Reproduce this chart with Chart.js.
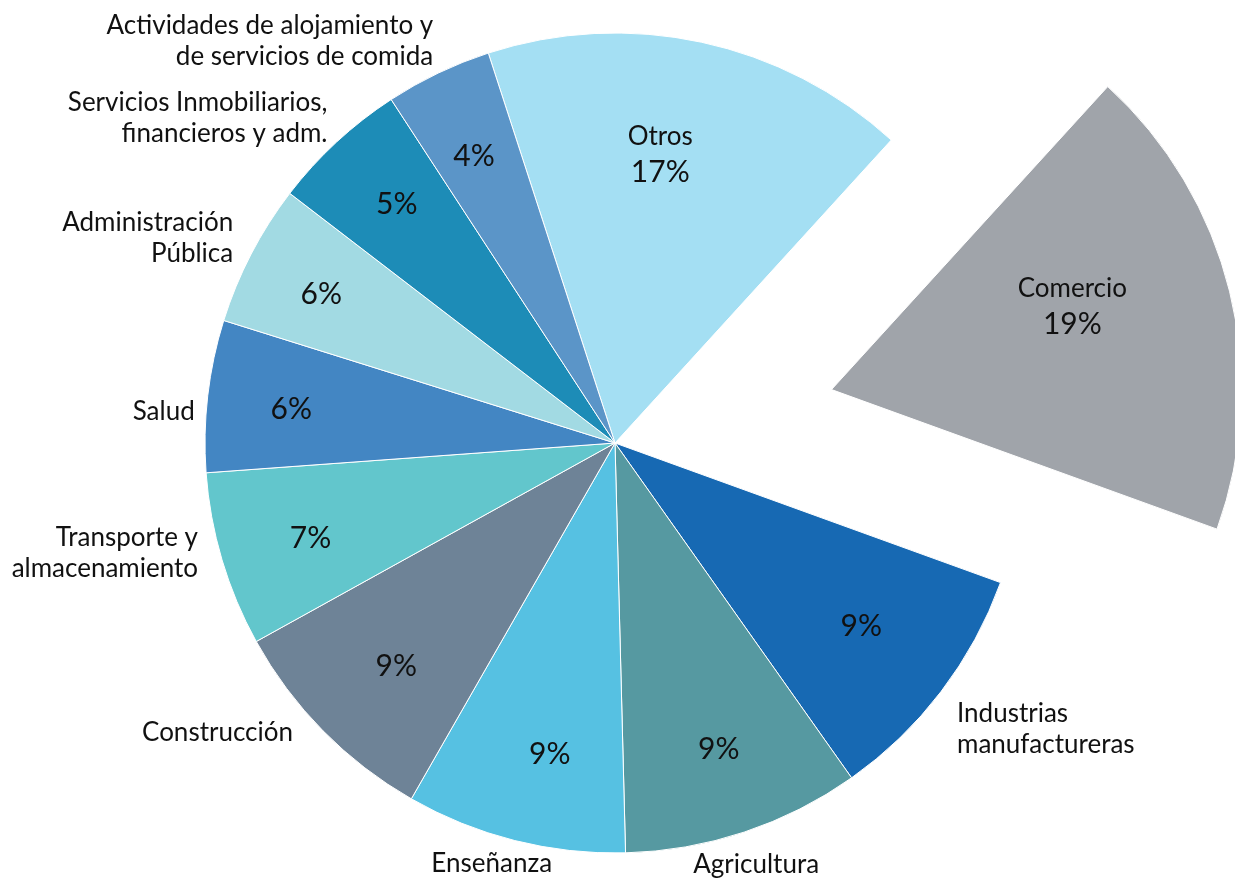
<!DOCTYPE html>
<html>
<head>
<meta charset="utf-8">
<script src="https://cdn.jsdelivr.net/npm/chart.js@4.4.1/dist/chart.umd.min.js"></script>
<style>
  html, body { margin: 0; padding: 0; background: #fff; }
  #wrap { width: 1235px; height: 880px; }
</style>
</head>
<body>
<div id="wrap"><canvas id="chart"></canvas></div>
<script>
// sectors, clockwise starting at "Otros"
var sectors = [
  ['Otros'],
  ['Comercio'],
  ['Industrias', 'manufactureras'],
  ['Agricultura'],
  ['Enseñanza'],
  ['Construcción'],
  ['Transporte y', 'almacenamiento'],
  ['Salud'],
  ['Administración', 'Pública'],
  ['Servicios Inmobiliarios,', 'financieros y adm.'],
  ['Actividades de alojamiento y', 'de servicios de comida']
];
var shares = [16.8, 18.8, 9.7, 9.4, 8.7, 8.7, 6.9, 6.0, 5.6, 5.4, 4.2];
var shareLabels = ['17%', '19%', '9%', '9%', '9%', '9%', '7%', '6%', '6%', '5%', '4%'];
var colors = ['#a4dff3', '#a0a4aa', '#1769b3', '#5699a1', '#56c1e2', '#6e8397',
              '#62c6cc', '#4386c3', '#a2dae3', '#1d8cb7', '#5b95c8'];
var explodeBy = [0, 223, 0, 0, 0, 0, 0, 0, 0, 0, 0];

// where each label goes: inside (name + pct) or name outside the rim
var labelLayout = [
  { inside: true, r: 0.72, dx: -17, dy: 0 },
  { inside: true, r: 0.6, dx: 2, dy: -24 },
  { align: 'left', dx: 16, dy: 37, pdx: -8, pdy: -11 },
  { align: 'center', dx: 12, dy: 32, pdx: 3, pdy: 3 },
  { align: 'center', dx: -23, dy: 23, pdx: 13, pdy: 1 },
  { align: 'right', dx: -30, dy: 2, pdx: 9, pdy: -1 },
  { align: 'right', dx: -24, dy: -7, pdx: 2, pdy: 4 },
  { align: 'right', dx: -13, dy: 16, pdx: -6, pdy: 3 },
  { align: 'right', dx: -18, dy: -16, pdx: -10, pdy: -1 },
  { align: 'right', dx: -9, dy: -24, pdx: -1, pdy: -4 },
  { align: 'right', dx: -5, dy: -32, pdx: -3, pdy: 2 }
];

var FONT = 'Lato, "Open Sans", sans-serif';

var explode = {
  id: 'explode',
  afterDatasetUpdate: function(chart, args) {
    args.meta.data.forEach(function(arc, i) {
      var d = explodeBy[i];
      if (!d) return;
      var mid = (arc.startAngle + arc.endAngle) / 2;
      arc.x += Math.cos(mid) * d;
      arc.y += Math.sin(mid) * d;
    });
  }
};

var sliceLabels = {
  id: 'sliceLabels',
  afterDatasetsDraw: function(chart) {
    var ctx = chart.ctx;
    var arcs = chart.getDatasetMeta(0).data;
    ctx.save();
    ctx.fillStyle = '#111';
    ctx.textBaseline = 'middle';
    arcs.forEach(function(arc, i) {
      var mid = (arc.startAngle + arc.endAngle) / 2;
      var R = arc.outerRadius;
      var lay = labelLayout[i];
      var cx = Math.cos(mid), cy = Math.sin(mid);
      if (lay.inside) {
        var x = arc.x + cx * R * lay.r + lay.dx;
        var y = arc.y + cy * R * lay.r + lay.dy;
        ctx.textAlign = 'center';
        ctx.font = '26px ' + FONT;
        ctx.fillText(sectors[i][0], x, y - 18);
        ctx.font = '30px ' + FONT;
        ctx.fillText(shareLabels[i], x, y + 18);
        return;
      }
      ctx.textAlign = 'center';
      ctx.font = '30px ' + FONT;
      ctx.fillText(shareLabels[i], arc.x + cx * R * 0.78 + lay.pdx, arc.y + cy * R * 0.78 + lay.pdy);

      var lines = sectors[i];
      var lh = 31;
      var ax = arc.x + cx * R + lay.dx;
      var ay = arc.y + cy * R + lay.dy - (lines.length - 1) * lh / 2;
      ctx.textAlign = lay.align;
      ctx.font = '26px ' + FONT;
      lines.forEach(function(t, k) {
        ctx.fillText(t, ax, ay + k * lh);
      });
    });
    ctx.restore();
  }
};

new Chart(document.getElementById('chart'), {
  type: 'pie',
  data: {
    labels: sectors.map(function(s) { return s.join(' '); }),
    datasets: [{
      data: shares,
      backgroundColor: colors,
      borderColor: '#ffffff',
      borderWidth: 1,
      radius: 410,
      clip: false
    }]
  },
  options: {
    responsive: true,
    maintainAspectRatio: false,
    animation: false,
    rotation: -18,
    layout: { padding: { left: 0, right: 5, top: 6, bottom: 0 } },
    plugins: {
      legend: { display: false },
      tooltip: { enabled: false }
    }
  },
  plugins: [explode, sliceLabels]
});
</script>
</body>
</html>
